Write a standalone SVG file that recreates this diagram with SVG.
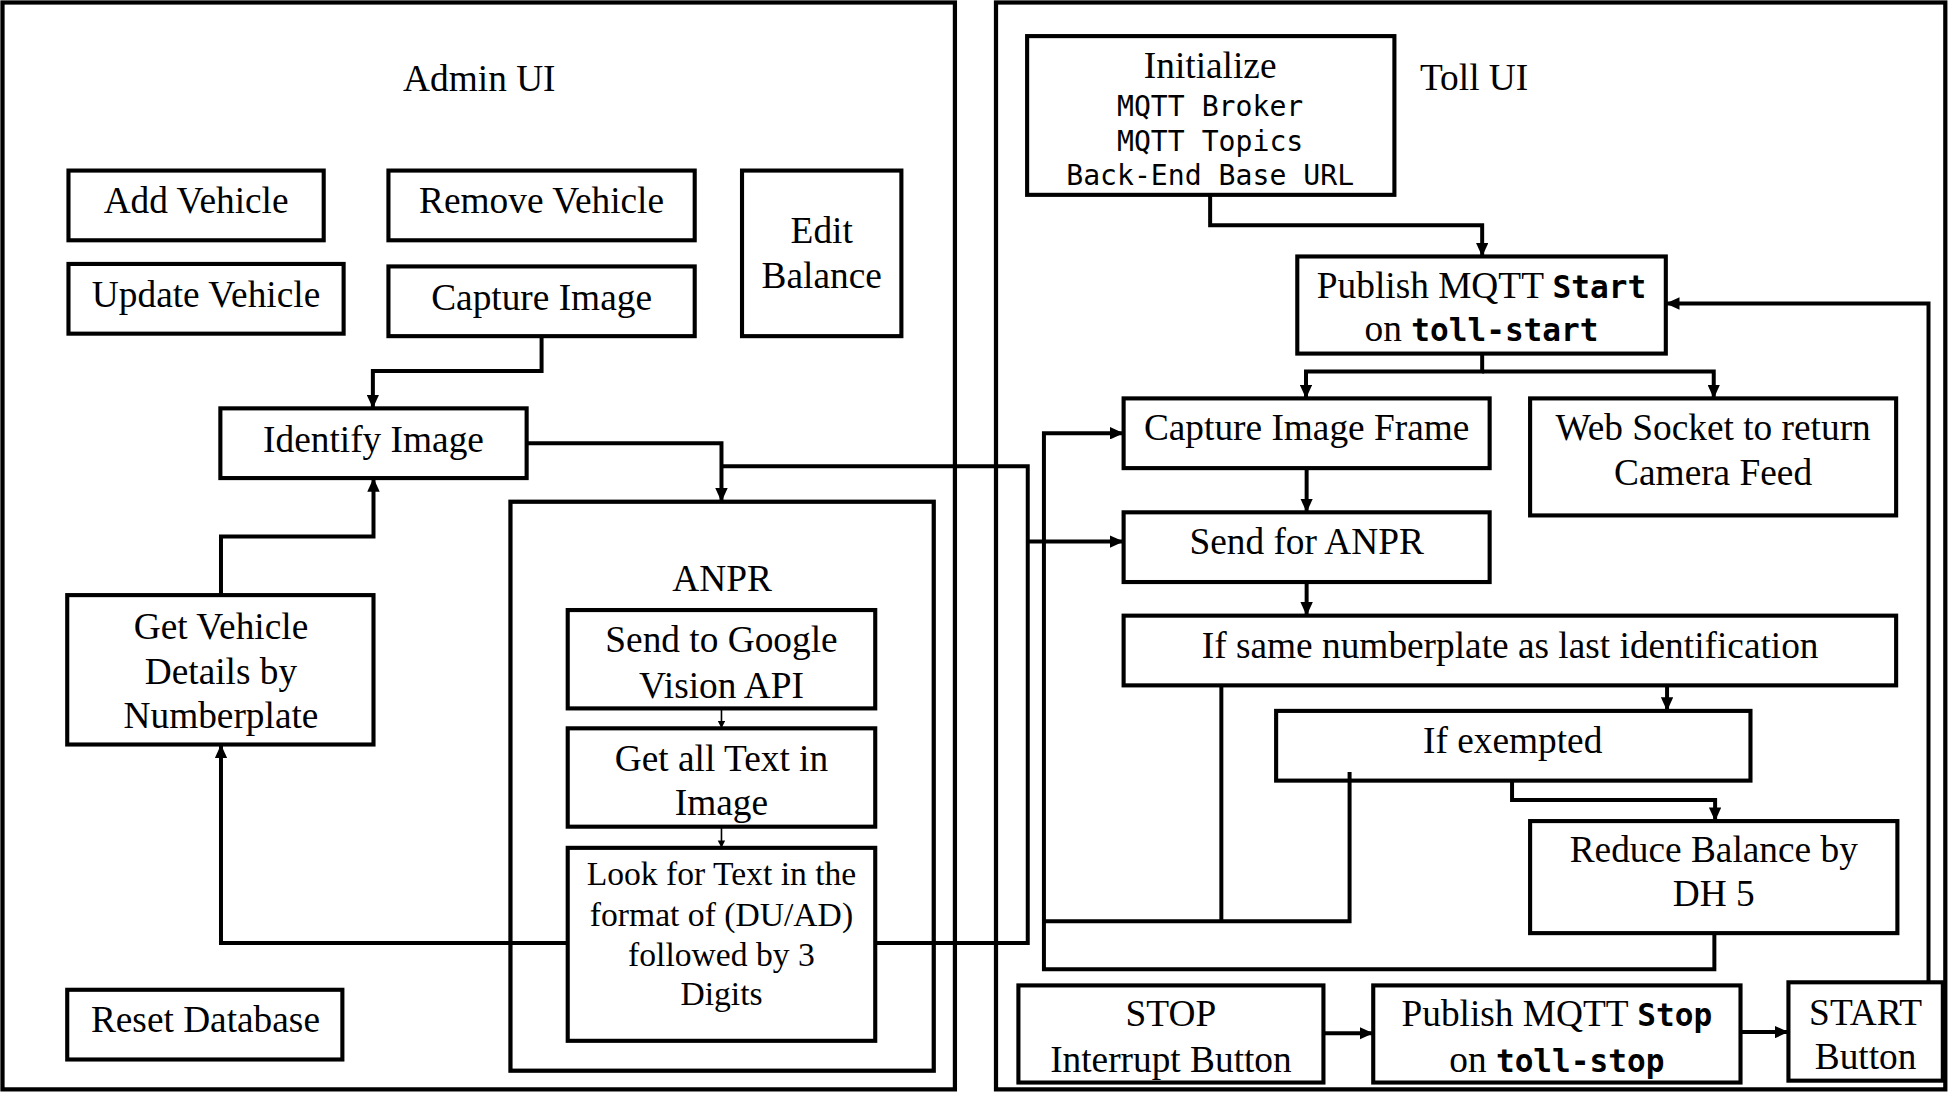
<svg xmlns="http://www.w3.org/2000/svg" width="1952" height="1105" viewBox="0 0 1952 1105">
<defs>
<marker id="ah" markerUnits="userSpaceOnUse" markerWidth="12" markerHeight="10" refX="11" refY="5" orient="auto"><path d="M0,0 L11,5 L0,10 z" fill="#000"/></marker>
<marker id="ahs" markerUnits="userSpaceOnUse" markerWidth="7" markerHeight="7" refX="6" refY="3" orient="auto"><path d="M0,0 L6,3 L0,6 z" fill="#000"/></marker>
<style>
.box{fill:#fff;stroke:#000;stroke-width:3.3}
.frame{fill:none;stroke:#000;stroke-width:3.4}
.t{font-family:"Liberation Serif","Times New Roman",serif;font-size:30px;fill:#000;text-anchor:middle}
.ts{font-size:27px}
.m{font-family:"DejaVu Sans Mono","Liberation Mono",monospace;font-size:22.6px}
.mb{font-family:"DejaVu Sans Mono","Liberation Mono",monospace;font-size:25px;font-weight:bold}
.c{fill:none;stroke:#000;stroke-width:3.2;stroke-linejoin:miter}
.thin{fill:none;stroke:#000;stroke-width:1.3}
</style>
</defs>
<rect width="1952" height="1105" fill="#fff"/>
<g transform="scale(1.245)">
<g id="admin-ui">
<rect class="frame" x="2" y="2" width="765" height="873"/>
<text class="t" x="385" y="73">Admin UI</text>
</g>
<g id="toll-ui">
<rect class="frame" x="800" y="2" width="762.5" height="873"/>
<text class="t" x="1184" y="72">Toll UI</text>
</g>
<g id="anpr">
<rect class="frame" x="410" y="403" width="340" height="457"/>
<text class="t" x="580" y="474.5">ANPR</text>
</g>

<g id="add-vehicle"><rect class="box" x="55" y="137" width="205" height="56"/><text class="t" x="157.5" y="171">Add Vehicle</text></g>
<g id="remove-vehicle"><rect class="box" x="312" y="137" width="246" height="56"/><text class="t" x="435" y="171">Remove Vehicle</text></g>
<g id="edit-balance"><rect class="box" x="596" y="137" width="128" height="133"/><text class="t" x="660" y="195">Edit</text><text class="t" x="660" y="231">Balance</text></g>
<g id="update-vehicle"><rect class="box" x="55" y="212" width="221" height="56"/><text class="t" x="165.5" y="247">Update Vehicle</text></g>
<g id="capture-image"><rect class="box" x="312" y="214" width="246" height="56"/><text class="t" x="435" y="249">Capture Image</text></g>
<g id="identify-image"><rect class="box" x="177" y="328" width="246" height="56"/><text class="t" x="300" y="363">Identify Image</text></g>
<g id="get-vehicle-details"><rect class="box" x="54" y="478" width="246" height="120"/><text class="t" x="177.5" y="513">Get Vehicle</text><text class="t" x="177.5" y="549.5">Details by</text><text class="t" x="177.5" y="585">Numberplate</text></g>
<g id="reset-database"><rect class="box" x="54" y="795" width="221" height="56"/><text class="t" x="165" y="829">Reset Database</text></g>
<g id="send-google-vision"><rect class="box" x="456" y="490" width="247" height="79"/><text class="t" x="579.5" y="524">Send to Google</text><text class="t" x="579.5" y="561">Vision API</text></g>
<g id="get-all-text"><rect class="box" x="456" y="585" width="247" height="79"/><text class="t" x="579.5" y="619">Get all Text in</text><text class="t" x="579.5" y="654.5">Image</text></g>
<g id="look-for-text"><rect class="box" x="456" y="681" width="247" height="155"/><text class="t ts" x="579.5" y="711">Look for Text in the</text><text class="t ts" x="579.5" y="743.5">format of (DU/AD)</text><text class="t ts" x="579.5" y="776">followed by 3</text><text class="t ts" x="579.5" y="807.5">Digits</text></g>

<g id="initialize"><rect class="box" x="825" y="29" width="295" height="127.5"/><text class="t" x="972" y="62.8">Initialize</text><text class="t m" x="972" y="93.3">MQTT Broker</text><text class="t m" x="972" y="121">MQTT Topics</text><text class="t m" x="972" y="149">Back-End Base URL</text></g>
<g id="publish-start"><rect class="box" x="1042" y="206" width="296" height="78"/><text class="t" x="1190" y="239">Publish MQTT <tspan class="mb">Start</tspan></text><text class="t" x="1190" y="274">on <tspan class="mb">toll-start</tspan></text></g>
<g id="capture-image-frame"><rect class="box" x="902.5" y="320" width="294" height="56"/><text class="t" x="1049.5" y="353.5">Capture Image Frame</text></g>
<g id="web-socket"><rect class="box" x="1229" y="320" width="294" height="94"/><text class="t" x="1376" y="353.5">Web Socket to return</text><text class="t" x="1376" y="389.7">Camera Feed</text></g>
<g id="send-for-anpr"><rect class="box" x="902.5" y="411.5" width="294" height="56"/><text class="t" x="1049.5" y="445">Send for ANPR</text></g>
<g id="if-same"><rect class="box" x="902.5" y="494.5" width="620.5" height="56"/><text class="t" x="1213" y="528.4">If same numberplate as last identification</text></g>
<g id="if-exempted"><rect class="box" x="1025" y="571" width="381" height="56"/><text class="t" x="1215" y="605">If exempted</text></g>
<g id="reduce-balance"><rect class="box" x="1229" y="659.5" width="295" height="90"/><text class="t" x="1376.5" y="692.7">Reduce Balance by</text><text class="t" x="1376.5" y="728">DH 5</text></g>
<g id="stop-button"><rect class="box" x="818" y="791.5" width="245" height="78"/><text class="t" x="940.5" y="824.4">STOP</text><text class="t" x="940.5" y="861.3">Interrupt Button</text></g>
<g id="publish-stop"><rect class="box" x="1103" y="791.5" width="295" height="78"/><text class="t" x="1250.5" y="824.4">Publish MQTT <tspan class="mb">Stop</tspan></text><text class="t" x="1250.5" y="861.3">on <tspan class="mb">toll-stop</tspan></text></g>
<g id="start-button"><rect class="box" x="1436.5" y="789" width="124" height="79"/><text class="t" x="1498.5" y="823">START</text><text class="t" x="1498.5" y="859">Button</text></g>

<g id="connectors">
<path class="c" d="M435,270 V298 H299.5 V328" marker-end="url(#ah)"/>
<path class="c" d="M423,356 H579.5 V403" marker-end="url(#ah)"/>
<path class="c" d="M177.5,478 V431 H300 V384" marker-end="url(#ah)"/>
<path class="c" d="M456,757.5 H177.5 V598" marker-end="url(#ah)"/>
<path class="thin" d="M579.5,569 V585" marker-end="url(#ahs)"/>
<path class="thin" d="M579.5,664 V681" marker-end="url(#ahs)"/>
<path class="c" d="M579.5,374.5 H825.5 V757.5 H703"/>
<path class="c" d="M825.5,435 H902.5" marker-end="url(#ah)"/>
<path class="c" d="M972,156.5 V181 H1190.5 V206" marker-end="url(#ah)"/>
<path class="c" d="M1190.5,284 V298.3 H1049 V320" marker-end="url(#ah)"/>
<path class="c" d="M1190.5,298.3 H1376.5 V320" marker-end="url(#ah)"/>
<path class="c" d="M1049.5,376 V411.5" marker-end="url(#ah)"/>
<path class="c" d="M1049.5,467.5 V494.5" marker-end="url(#ah)"/>
<path class="c" d="M1339,550.5 V571" marker-end="url(#ah)"/>
<path class="c" d="M1214.5,627 V642.6 H1377.6 V659.5" marker-end="url(#ah)"/>
<path class="c" d="M981,550.5 V740"/>
<path class="c" d="M838.5,740 H1084 V620"/>
<path class="c" d="M1377,749.5 V778.5 H838.5 V348 H902.5" marker-end="url(#ah)"/>
<path class="c" d="M1549,789 V243.8 H1338" marker-end="url(#ah)"/>
<path class="c" d="M1063,830 H1103" marker-end="url(#ah)"/>
<path class="c" d="M1398,829 H1436.5" marker-end="url(#ah)"/>
</g>
</g>
</svg>
